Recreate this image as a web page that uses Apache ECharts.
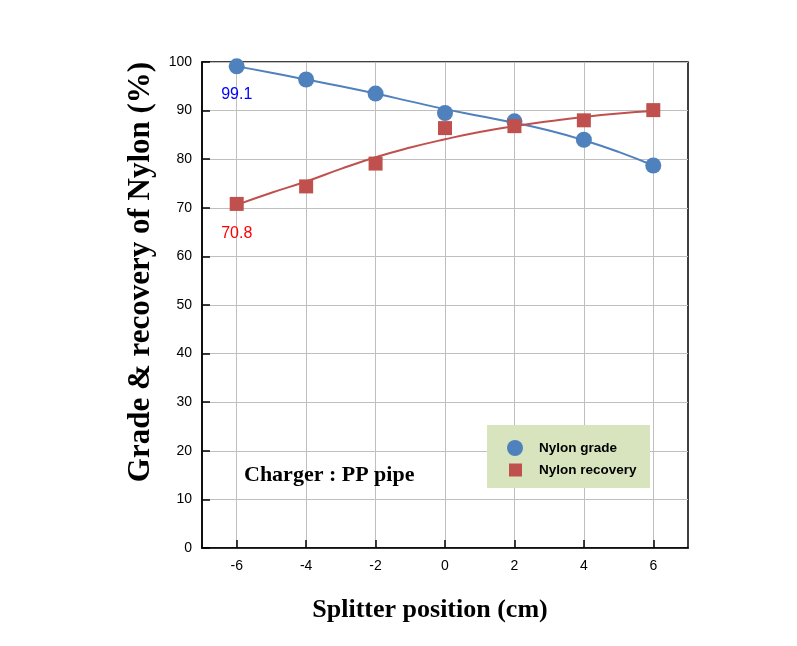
<!DOCTYPE html>
<html><head><meta charset="utf-8">
<script src="https://cdn.jsdelivr.net/npm/echarts@6/dist/echarts.min.js"></script>
<style>html,body{margin:0;padding:0;background:#fff}#c{width:797px;height:646px}</style>
</head><body><div id="c"></div>
<script>
const positions = [-6, -4, -2, 0, 2, 4, 6];
const gradeValues = [99.1, 96.4, 93.5, 89.5, 87.8, 84.0, 78.7];
const recoveryValues = [70.8, 74.4, 79.1, 86.4, 86.8, 88.0, 90.1];
const fitX = [-6, -5, -4, -3, -2, -1, 0, 1, 2, 3, 4, 5, 6];
const gradeFit = [99.1, 97.8, 96.4, 95.0, 93.5, 91.9, 90.3, 88.9, 87.5, 85.9, 83.9, 81.5, 78.7];
const recoveryFit = [70.6, 73.1, 75.4, 78.0, 80.4, 82.4, 84.1, 85.6, 86.8, 87.8, 88.7, 89.4, 89.9];
const xTicks = [-6, -4, -2, 0, 2, 4, 6];
const yTicks = [0, 10, 20, 30, 40, 50, 60, 70, 80, 90, 100];

const pairs = (xs, ys) => xs.map((x, i) => [x, ys[i]]);
const serif = 'Liberation Serif';
const sans = 'Liberation Sans';

const chart = echarts.init(document.getElementById('c'));
chart.setOption({
  animation: false,
  grid: { left: 202, top: 62, right: 109, bottom: 98, show: true, borderColor: '#000', borderWidth: 1.5, backgroundColor: 'transparent' },
  xAxis: {
    type: 'value', min: -7, max: 7, interval: 1,
    name: 'Splitter position (cm)', nameLocation: 'middle', nameGap: 49,
    nameTextStyle: { fontFamily: serif, fontWeight: 'bold', fontSize: 26, color: '#000', padding: [0, 30, 0, 0] },
    axisLine: { show: true, onZero: false, lineStyle: { color: '#000', width: 1.5 } },
    axisTick: { show: true, inside: true, length: 8, customValues: xTicks, lineStyle: { color: '#000', width: 1.5 } },
    axisLabel: { customValues: xTicks, fontFamily: sans, fontSize: 14, color: '#000', margin: 11 },
    splitLine: { show: true, lineStyle: { color: '#bfbfbf', width: 1 } }
  },
  yAxis: {
    type: 'value', min: 0, max: 100, interval: 10,
    name: 'Grade & recovery of Nylon (%)', nameLocation: 'middle', nameGap: 46,
    nameTextStyle: { fontFamily: serif, fontWeight: 'bold', fontSize: 31, color: '#000', padding: [0, 0, 0, 66] },
    axisLine: { show: true, onZero: false, lineStyle: { color: '#000', width: 1.5 } },
    axisTick: { show: true, inside: true, length: 8, customValues: yTicks, lineStyle: { color: '#000', width: 1.5 } },
    axisLabel: { customValues: yTicks, fontFamily: sans, fontSize: 14, color: '#000', margin: 10 },
    splitLine: { show: true, lineStyle: { color: '#bfbfbf', width: 1 } }
  },
  legend: [
    { data: [{ name: 'Nylon grade', icon: 'circle' }], left: 502, top: 435, itemWidth: 16, itemHeight: 16,
      textStyle: { fontFamily: sans, fontWeight: 'bold', fontSize: 13.5, color: '#000', padding: [0, 0, 0, 11] }, z: 5 },
    { data: [{ name: 'Nylon recovery', icon: 'rect' }], left: 504, top: 458, itemWidth: 13, itemHeight: 13,
      textStyle: { fontFamily: sans, fontWeight: 'bold', fontSize: 13.5, color: '#000', padding: [0, 0, 0, 12] }, z: 5 }
  ],
  graphic: [
    { type: 'rect', left: 487, top: 425, shape: { width: 163, height: 63 }, style: { fill: '#d7e4bd' }, z: 3 },
    { type: 'text', left: 244, top: 464, style: { text: 'Charger : PP pipe', font: 'bold 22px "Liberation Serif"', fill: '#000' }, z: 3 }
  ],
  series: [
    { type: 'line', name: 'gradeFit', data: pairs(fitX, gradeFit), smooth: true, showSymbol: false, symbol: 'none',
      lineStyle: { color: '#4f81bd', width: 2 }, z: 2, silent: true },
    { type: 'line', name: 'recoveryFit', data: pairs(fitX, recoveryFit), smooth: true, showSymbol: false, symbol: 'none',
      lineStyle: { color: '#c0504d', width: 2 }, z: 2, silent: true },
    { type: 'scatter', name: 'Nylon grade', symbol: 'circle', symbolSize: 16, itemStyle: { color: '#4f81bd', opacity: 1 }, z: 4,
      data: positions.map((x, i) => i === 0
        ? { value: [x, gradeValues[i]], label: { show: true, position: 'bottom', distance: 12, formatter: String(gradeValues[i]), fontFamily: sans, fontSize: 16, color: '#0000ff' } }
        : [x, gradeValues[i]]) },
    { type: 'scatter', name: 'Nylon recovery', symbol: 'rect', symbolSize: 14, itemStyle: { color: '#c0504d', opacity: 1 }, z: 4,
      data: positions.map((x, i) => i === 0
        ? { value: [x, recoveryValues[i]], label: { show: true, position: 'bottom', distance: 15, formatter: String(recoveryValues[i]), fontFamily: sans, fontSize: 16, color: '#ff0000' } }
        : [x, recoveryValues[i]]) }
  ]
});
</script></body></html>
